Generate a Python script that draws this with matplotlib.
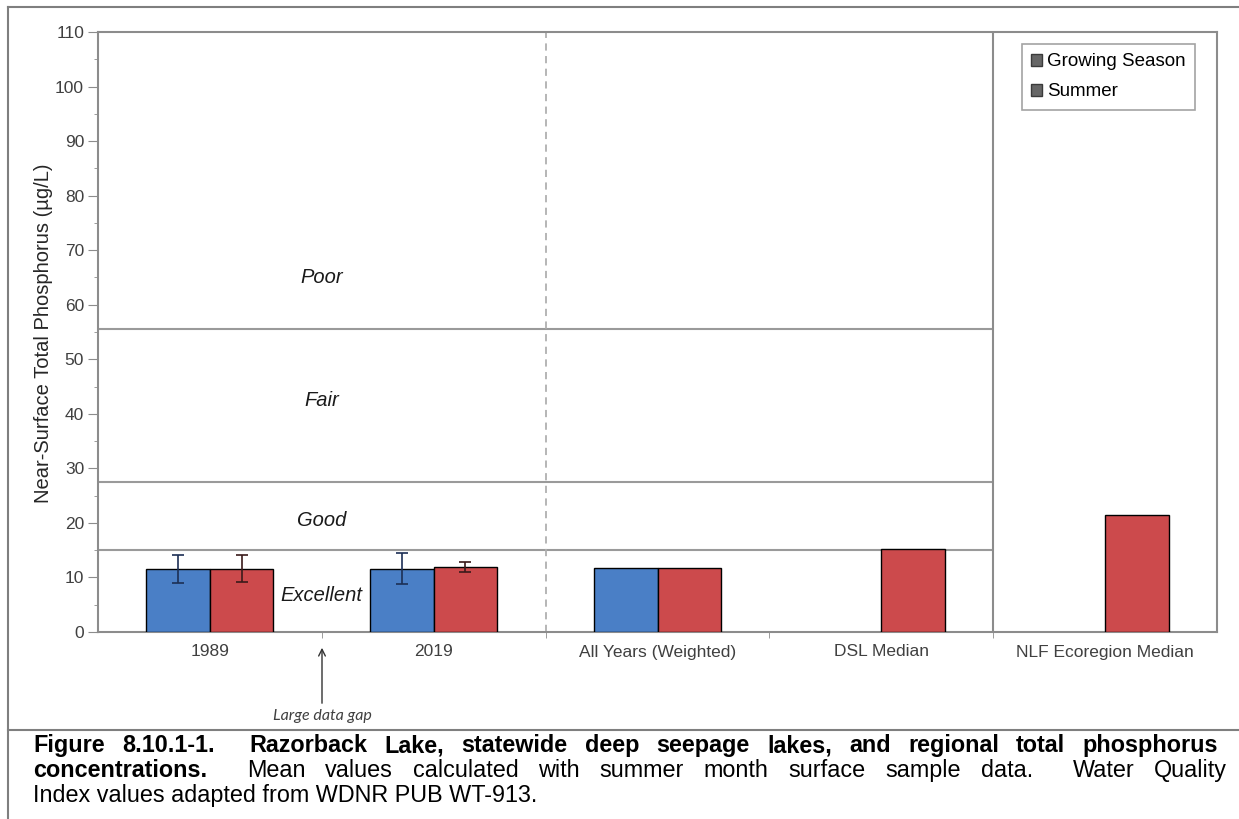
import numpy as np
import matplotlib
matplotlib.use('Agg')
import matplotlib.pyplot as plt
from matplotlib.lines import Line2D
from matplotlib.patches import Patch, FancyArrowPatch

plt.rcParams['font.family'] = ['Liberation Sans', 'DejaVu Sans']

# data
categories = ['1989', '2019', 'All Years (Weighted)', 'DSL Median', 'NLF Ecoregion Median']
growing = [11.6, 11.6, 11.8, np.nan, np.nan]
summer = [11.6, 11.9, 11.8, 15.2, 21.4]
growing_err = [2.6, 2.8, np.nan, np.nan, np.nan]
summer_err = [2.5, 0.9, np.nan, np.nan, np.nan]

# water quality index boundaries and labels
zone_limits = [15, 27.5, 55.5]
zone_names = ['Excellent', 'Good', 'Fair', 'Poor']
zone_label_y = [6.7, 20.4, 42.5, 65]

W, H = 1239, 819
fig = plt.figure(figsize=(W / 100, H / 100), dpi=100)
ax = fig.add_axes([98 / W, 1 - 632 / H, 1119 / W, 600 / H])

x = np.arange(len(categories))
bw = 0.284
blue = '#4a7fc6'
red = '#cc4a4c'
ax.bar(x - bw / 2, growing, bw, color=blue, edgecolor='black', linewidth=1, zorder=3)
ax.bar(x + bw / 2, summer, bw, color=red, edgecolor='black', linewidth=1, zorder=3)
ax.errorbar(x - bw / 2, growing, yerr=growing_err, fmt='none', ecolor='#1c2f55',
            elinewidth=1.2, capsize=4, capthick=1.2, zorder=4)
ax.errorbar(x + bw / 2, summer, yerr=summer_err, fmt='none', ecolor='#3a1a1a',
            elinewidth=1.2, capsize=4, capthick=1.2, zorder=4)

ax.set_xlim(-0.5, len(categories) - 0.5)
ax.set_ylim(0, 110)

# zone lines and dividers
ax.hlines(zone_limits, -0.5, 3.5, colors='#9a9a9a', linewidth=1.5, zorder=2)
ax.axvline(3.5, color='#8c8c8c', linewidth=1.5, zorder=2)
ax.axvline(1.5, color='#b0b0b0', linewidth=1.3, linestyle=(0, (4, 3)), zorder=2)
for name, yy in zip(zone_names, zone_label_y):
    ax.text(0.5, yy, name, ha='center', va='center', style='italic', fontsize=14.5,
            color='#1a1a1a', zorder=5)

for s in ax.spines.values():
    s.set_color('#8c8c8c')
    s.set_linewidth(1.5)

ax.set_yticks(np.arange(0, 111, 10))
ax.set_yticks(np.arange(0, 111, 5), minor=True)
ax.tick_params(axis='y', which='major', length=7, color='#8c8c8c', labelsize=12.5,
               labelcolor='#404040', pad=3)
ax.tick_params(axis='y', which='minor', length=3, color='#8c8c8c')
ax.set_xticks(x)
ax.set_xticklabels(categories)
ax.set_xticks(np.arange(0.5, len(categories) - 0.5, 1), minor=True)
ax.tick_params(axis='x', which='major', length=0, labelsize=12.5, labelcolor='#404040', pad=9)
ax.tick_params(axis='x', which='minor', length=4, color='#8c8c8c')

fig.text(44 / W, 1 - 333 / H, 'Near-Surface Total Phosphorus (µg/L)', rotation=90,
         ha='center', va='center', fontsize=14.5, color='#262626')

handles = [Patch(facecolor='#666666', edgecolor='#3a3a3a', label='Growing Season'),
           Patch(facecolor='#666666', edgecolor='#3a3a3a', label='Summer')]
leg = ax.legend(handles=handles, loc='upper right', bbox_to_anchor=(1195 / W, 1 - 44 / H),
                bbox_transform=fig.transFigure, borderaxespad=0, fancybox=False,
                frameon=True, fontsize=13.5, handlelength=0.6, handleheight=0.6,
                handletextpad=0.25, labelspacing=0.7, borderpad=0.5)
leg.get_frame().set_edgecolor('#8c8c8c')
leg.get_frame().set_linewidth(1.2)

# arrow and note under the plot
fig.add_artist(FancyArrowPatch(
    (322 / W, 1 - 706 / H), (322 / W, 1 - 645 / H), transform=fig.transFigure,
    arrowstyle='->', mutation_scale=12, color='#333333', lw=1))
fig.text(322 / W, 1 - 716 / H, 'Large data gap', ha='center', va='center', style='italic',
         fontsize=11.5, family=['Lato', 'DejaVu Sans'], color='#404040')

# page frame
for xs, ys in [([8, 8], [7, H]), ([8, W], [7, 7]), ([8, W], [730, 730])]:
    fig.add_artist(Line2D([v / W for v in xs], [1 - v / H for v in ys],
                          transform=fig.transFigure, color='#7f7f7f', linewidth=1.5))

# caption, first two lines justified
cap_size = 16.8
renderer = fig.canvas.get_renderer()


def justify(tokens, base_y, x0, x1):
    texts = [fig.text(0, 1 - base_y / H, w, fontsize=cap_size, weight=wt, va='baseline',
                      color='black') for w, wt in tokens]
    widths = [t.get_window_extent(renderer).width if t.get_text() else 0 for t in texts]
    gap = (x1 - x0 - sum(widths)) / (len(texts) - 1)
    pos = x0
    for t, wd in zip(texts, widths):
        t.set_x(pos / W)
        pos += wd + gap


line1 = 'Figure 8.10.1-1.  Razorback Lake, statewide deep seepage lakes, and regional total phosphorus'
justify([(w, 'bold') for w in line1.split(' ')], 752, 33, 1218)
line2a = 'concentrations.'
line2b = ' Mean values calculated with summer month surface sample data.  Water Quality'
justify([(line2a, 'bold')] + [(w, 'normal') for w in line2b.split(' ')], 777, 33, 1227)
fig.text(33 / W, 1 - 802 / H, 'Index values adapted from WDNR PUB WT-913.', fontsize=cap_size,
         va='baseline', color='black')

fig.savefig('out.png', dpi=100)
